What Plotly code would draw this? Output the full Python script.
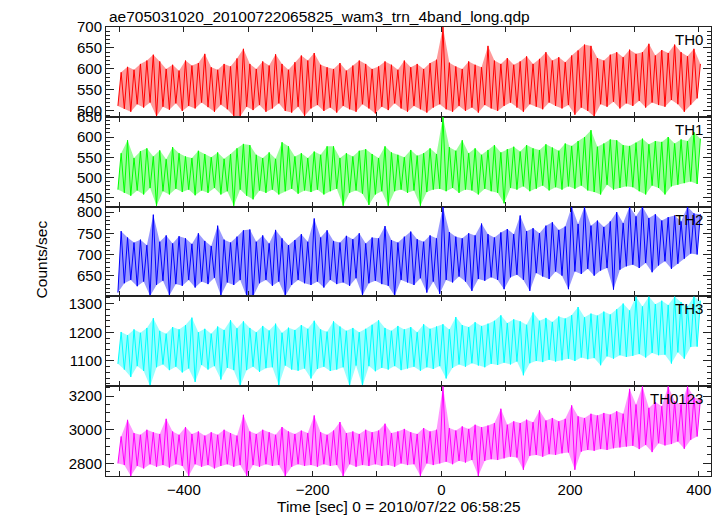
import plotly.graph_objects as go
from plotly.subplots import make_subplots

# ---------------- data ----------------
title_text = "ae705031020_20100722065825_wam3_trn_4band_long.qdp"
x_title = "Time [sec] 0 = 2010/07/22 06:58:25"
y_title = "Counts/sec"
band_names = ["TH0", "TH1", "TH2", "TH3", "TH0123"]
band_colors = ["#ff0000", "#00ff00", "#0000ff", "#00ffff", "#ff00ff"]
band_fills = ["rgba(255,0,0,0.4)", "rgba(0,255,0,0.4)", "rgba(0,0,255,0.4)",
              "rgba(0,255,255,0.4)", "rgba(255,0,255,0.4)"]

# 10-s windows (start of window), local low / high inside each window
window_t = list(range(-500, 401, 10))

th0_hi = [592, 605, 598, 612, 620, 634, 618, 600, 610, 596,
          620, 608, 614, 636, 604, 598, 612, 606, 625, 648,
          612, 600, 618, 608, 635, 612, 598, 616, 632, 620,
          638, 610, 604, 600, 614, 596, 608, 620, 612, 600,
          606, 618, 610, 598, 620, 604, 612, 600, 614, 622,
          700, 615, 606, 600, 618, 610, 604, 655, 620, 612,
          626, 610, 618, 630, 612, 624, 640, 620, 628, 616,
          632, 644, 658, 655, 626, 620, 634, 640, 628, 646,
          636, 640, 660, 632, 645, 638, 658, 640, 630, 648,
          612]
th0_lo = [512, 505, 498, 516, 508, 520, 487, 510, 503, 518,
          500, 512, 506, 520, 509, 498, 515, 504, 488, 487,
          510, 502, 514, 498, 506, 518, 500, 496, 510, 488,
          506, 514, 500, 508, 496, 512, 504, 498, 516, 506,
          494, 510, 502, 518, 506, 498, 512, 504, 496, 508,
          516, 504, 498, 512, 500, 508, 496, 514, 506, 500,
          512, 520, 508, 498, 516, 510, 504, 520, 512, 506,
          514, 491, 508, 500, 487, 516, 510, 522, 506, 518,
          512, 524, 508, 520, 514, 510, 526, 516, 498, 515,
          530]

th1_hi = [560, 592, 548, 565, 572, 552, 567, 545, 575, 560,
          552, 548, 566, 558, 550, 562, 546, 558, 572, 583,
          580, 556, 548, 562, 546, 587, 577, 552, 560, 548,
          564, 556, 577, 577, 548, 560, 552, 566, 570, 558,
          548, 577, 562, 556, 550, 568, 554, 560, 572, 558,
          650, 575, 566, 592, 560, 572, 556, 568, 580, 562,
          570, 576, 564, 580, 572, 568, 582, 574, 566, 584,
          578, 590, 600, 617, 576, 584, 594, 592, 580, 578,
          586, 596, 582, 590, 588, 600, 584, 594, 590, 612,
          596]
th1_lo = [470, 462, 455, 468, 458, 474, 430, 466, 458, 472,
          464, 470, 456, 468, 462, 474, 458, 466, 430, 470,
          455, 446, 468, 462, 470, 458, 466, 472, 460, 468,
          464, 470, 458, 466, 472, 430, 462, 468, 460, 432,
          458, 466, 430, 466, 470, 462, 468, 430, 464, 470,
          472, 466, 474, 462, 470, 468, 458, 472, 466, 462,
          436, 474, 470, 478, 466, 472, 480, 468, 476, 470,
          478, 472, 480, 468, 464, 458, 482, 470, 474, 478,
          476, 466, 458, 480, 474, 458, 478, 482, 486, 490,
          484]

th2_hi = [755, 740, 728, 735, 722, 794, 730, 745, 726, 743,
          738, 725, 750, 732, 720, 768, 735, 728, 742, 757,
          759, 730, 745, 726, 758, 738, 722, 734, 748, 730,
          785, 740, 757, 732, 728, 744, 736, 750, 726, 740,
          738, 767, 734, 728, 742, 754, 736, 730, 745, 738,
          813, 753, 742, 738, 750, 745, 773, 748, 740, 752,
          760, 748, 792, 755, 762, 750, 768, 776, 758, 766,
          813, 772, 813, 768, 780, 765, 778, 800, 774, 813,
          790, 813, 786, 795, 780, 788, 792, 778, 813, 797,
          795]
th2_lo = [610, 632, 640, 625, 636, 602, 628, 638, 603, 630,
          626, 640, 622, 636, 630, 645, 603, 634, 628, 640,
          600, 600, 632, 640, 626, 636, 602, 628, 640, 632,
          628, 636, 622, 640, 630, 634, 626, 644, 603, 632,
          638, 630, 626, 602, 640, 634, 628, 644, 610, 636,
          607, 640, 634, 648, 636, 614, 642, 638, 646, 640,
          618, 646, 652, 640, 614, 656, 648, 642, 660, 650,
          618, 660, 654, 666, 650, 662, 668, 617, 664, 672,
          676, 668, 680, 658, 674, 684, 666, 678, 690, 702,
          700]

th3_hi = [1201, 1190, 1210, 1198, 1215, 1249, 1205, 1195, 1218, 1210,
          1225, 1251, 1200, 1212, 1195, 1220, 1208, 1242, 1214, 1238,
          1215, 1200, 1222, 1206, 1230, 1198, 1216, 1208, 1225, 1212,
          1240, 1210, 1202, 1238, 1220, 1205, 1215, 1200, 1212, 1226,
          1242, 1215, 1205, 1222, 1210, 1218, 1200, 1228, 1212, 1220,
          1228, 1210, 1253, 1225, 1218, 1235, 1222, 1230, 1240, 1259,
          1232, 1245, 1238, 1226, 1269, 1240, 1250, 1236, 1255, 1248,
          1260, 1288, 1252, 1265, 1258, 1272, 1262, 1280, 1300, 1276,
          1325, 1290, 1325, 1298, 1310, 1295, 1325, 1305, 1290, 1325,
          1310]
th3_lo = [1090, 1070, 1044, 1082, 1065, 1012, 1078, 1088, 1068, 1080,
          1060, 1074, 1027, 1086, 1070, 1082, 1035, 1076, 1068, 1012,
          1068, 1080, 1062, 1075, 1078, 1015, 1084, 1070, 1066, 1074,
          1039, 1072, 1080, 1065, 1070, 1078, 1012, 1084, 1012, 1082,
          1064, 1076, 1070, 1082, 1068, 1074, 1080, 1066, 1078, 1072,
          1082, 1039, 1076, 1088, 1080, 1092, 1084, 1078, 1090, 1086,
          1094, 1088, 1098, 1050, 1092, 1100, 1096, 1104, 1098, 1102,
          1108, 1100, 1112, 1106, 1110, 1085, 1116, 1108, 1120, 1114,
          1118, 1124, 1112, 1128, 1120, 1122, 1091, 1130, 1108, 1149,
          1150]

th0123_hi = [2960, 3059, 2980, 2970, 3000, 2985, 2975, 3065, 2990, 2970,
             3016, 2975, 2990, 2965, 2985, 2970, 3000, 2980, 2965, 3089,
             2990, 2975, 3000, 2985, 2970, 3016, 2990, 2975, 2995, 2980,
             3085, 2985, 2970, 2995, 3046, 2980, 2990, 2975, 3000, 2985,
             2995, 3036, 2980, 2990, 3005, 2985, 2975, 3010, 2990, 3000,
             3259, 3010, 2995, 3020, 3005, 3030, 3015, 3025, 3040, 3125,
             3030, 3050, 3040, 3060, 3045, 3115, 3055, 3070, 3050, 3065,
             3145, 3080, 3070, 3095, 3085, 3100, 3090, 3110, 3095, 3243,
             3150, 3259, 3130, 3165, 3140, 3259, 3170, 3150, 3259, 3194,
             3180]
th0123_lo = [2800, 2790, 2725, 2785, 2770, 2795, 2780, 2790, 2775, 2795,
             2785, 2725, 2795, 2780, 2790, 2770, 2785, 2795, 2780, 2790,
             2725, 2790, 2780, 2795, 2785, 2790, 2725, 2780, 2795, 2785,
             2790, 2780, 2795, 2785, 2790, 2725, 2795, 2780, 2790, 2785,
             2795, 2785, 2790, 2780, 2800, 2790, 2795, 2725, 2800, 2790,
             2800, 2810, 2795, 2815, 2805, 2820, 2725, 2815, 2825, 2820,
             2830, 2840, 2835, 2762, 2845, 2850, 2840, 2855, 2850, 2860,
             2865, 2762, 2870, 2880, 2875, 2885, 2880, 2890, 2895, 2900,
             2905, 2885, 2910, 2867, 2920, 2907, 2915, 2930, 2887, 2940,
             2960]

highs = [th0_hi, th1_hi, th2_hi, th3_hi, th0123_hi]
lows = [th0_lo, th1_lo, th2_lo, th3_lo, th0123_lo]

# axis ranges and tick labels per panel
y_ranges = [[486, 700], [428, 650], [601, 813], [1012, 1325], [2725, 3259]]
y_ticks = [[500, 550, 600, 650, 700],
           [450, 500, 550, 600, 650],
           [650, 700, 750, 800],
           [1100, 1200, 1300],
           [2800, 3000, 3200]]
y_minor = [10, 10, 10, 20, 50]
x_range = [-521, 419]
x_ticks = [-400, -200, 0, 200, 400]

FONT = "Liberation Sans, Arial, Helvetica, sans-serif"
AXC = "#222"

fig = make_subplots(rows=5, cols=1, shared_xaxes=True, vertical_spacing=0)

for i in range(5):
    xs, ys = [], []
    for t, lo, hi in zip(window_t, lows[i], highs[i]):
        xs += [t - 2.5, t + 2.5]
        ys += [lo, hi]
    # light band between the local lows and highs (the error-bar halo)
    bx = [t + 2.5 for t in window_t] + [t - 2.5 for t in window_t[::-1]]
    by = list(highs[i]) + list(lows[i][::-1])
    fig.add_trace(go.Scatter(x=bx, y=by, mode="lines", fill="toself",
                             fillcolor=band_fills[i], line=dict(width=0),
                             hoverinfo="skip", showlegend=False),
                  row=i + 1, col=1)
    fig.add_trace(go.Scatter(x=xs, y=ys, mode="lines",
                             line=dict(color=band_colors[i], width=1),
                             showlegend=False),
                  row=i + 1, col=1)
    sfx = str(i + 1) if i else ""
    fig.add_annotation(text=band_names[i], xref=f"x{sfx} domain",
                       yref=f"y{sfx} domain", x=1, y=1,
                       xanchor="right", yanchor="top", xshift=-6, yshift=-2,
                       showarrow=False, font=dict(family=FONT, size=15, color="black"))

for i in range(5):
    fig.update_yaxes(row=i + 1, col=1, range=y_ranges[i], tickvals=y_ticks[i],
                     ticks="inside", ticklen=8, tickwidth=1, tickcolor=AXC,
                     minor=dict(dtick=y_minor[i], ticks="inside", ticklen=4,
                                tickcolor=AXC, showgrid=False),
                     showline=True, linecolor=AXC, linewidth=1, mirror="allticks",
                     showgrid=False, zeroline=False,
                     tickfont=dict(family=FONT, size=15, color="black"))
    fig.update_xaxes(row=i + 1, col=1, range=x_range, tickvals=x_ticks,
                     ticks="inside", ticklen=5, tickwidth=1, tickcolor=AXC,
                     minor=dict(dtick=100, tick0=0, ticks="inside", ticklen=5,
                                tickcolor=AXC, showgrid=False),
                     showline=True, linecolor=AXC, linewidth=1, mirror="allticks",
                     showgrid=False, zeroline=False,
                     showticklabels=(i == 4),
                     tickfont=dict(family=FONT, size=15, color="black"))

fig.add_annotation(text=title_text, xref="paper", yref="paper", x=0.002, y=1,
                   xanchor="left", yanchor="middle", yshift=11, showarrow=False,
                   font=dict(family=FONT, size=15.5, color="black"))
fig.add_annotation(text=y_title, xref="paper", yref="paper", x=-0.107, y=0.483,
                   xanchor="center", yanchor="middle",
                   textangle=-90, showarrow=False,
                   font=dict(family=FONT, size=15.5, color="black"))
fig.add_annotation(text=x_title, xref="paper", yref="paper", x=0.484, y=0,
                   xanchor="center", yanchor="middle", yshift=-30, showarrow=False,
                   font=dict(family=FONT, size=15.5, color="black"))

fig.update_layout(width=723, height=516, plot_bgcolor="white", paper_bgcolor="white",
                  margin=dict(l=106, r=12, t=27, b=40), showlegend=False)

# remove the default 8px page margin so the figure fills the window exactly
fig.write_html("out.html", config={"displayModeBar": False},
               post_script="document.body.style.margin='0';")
